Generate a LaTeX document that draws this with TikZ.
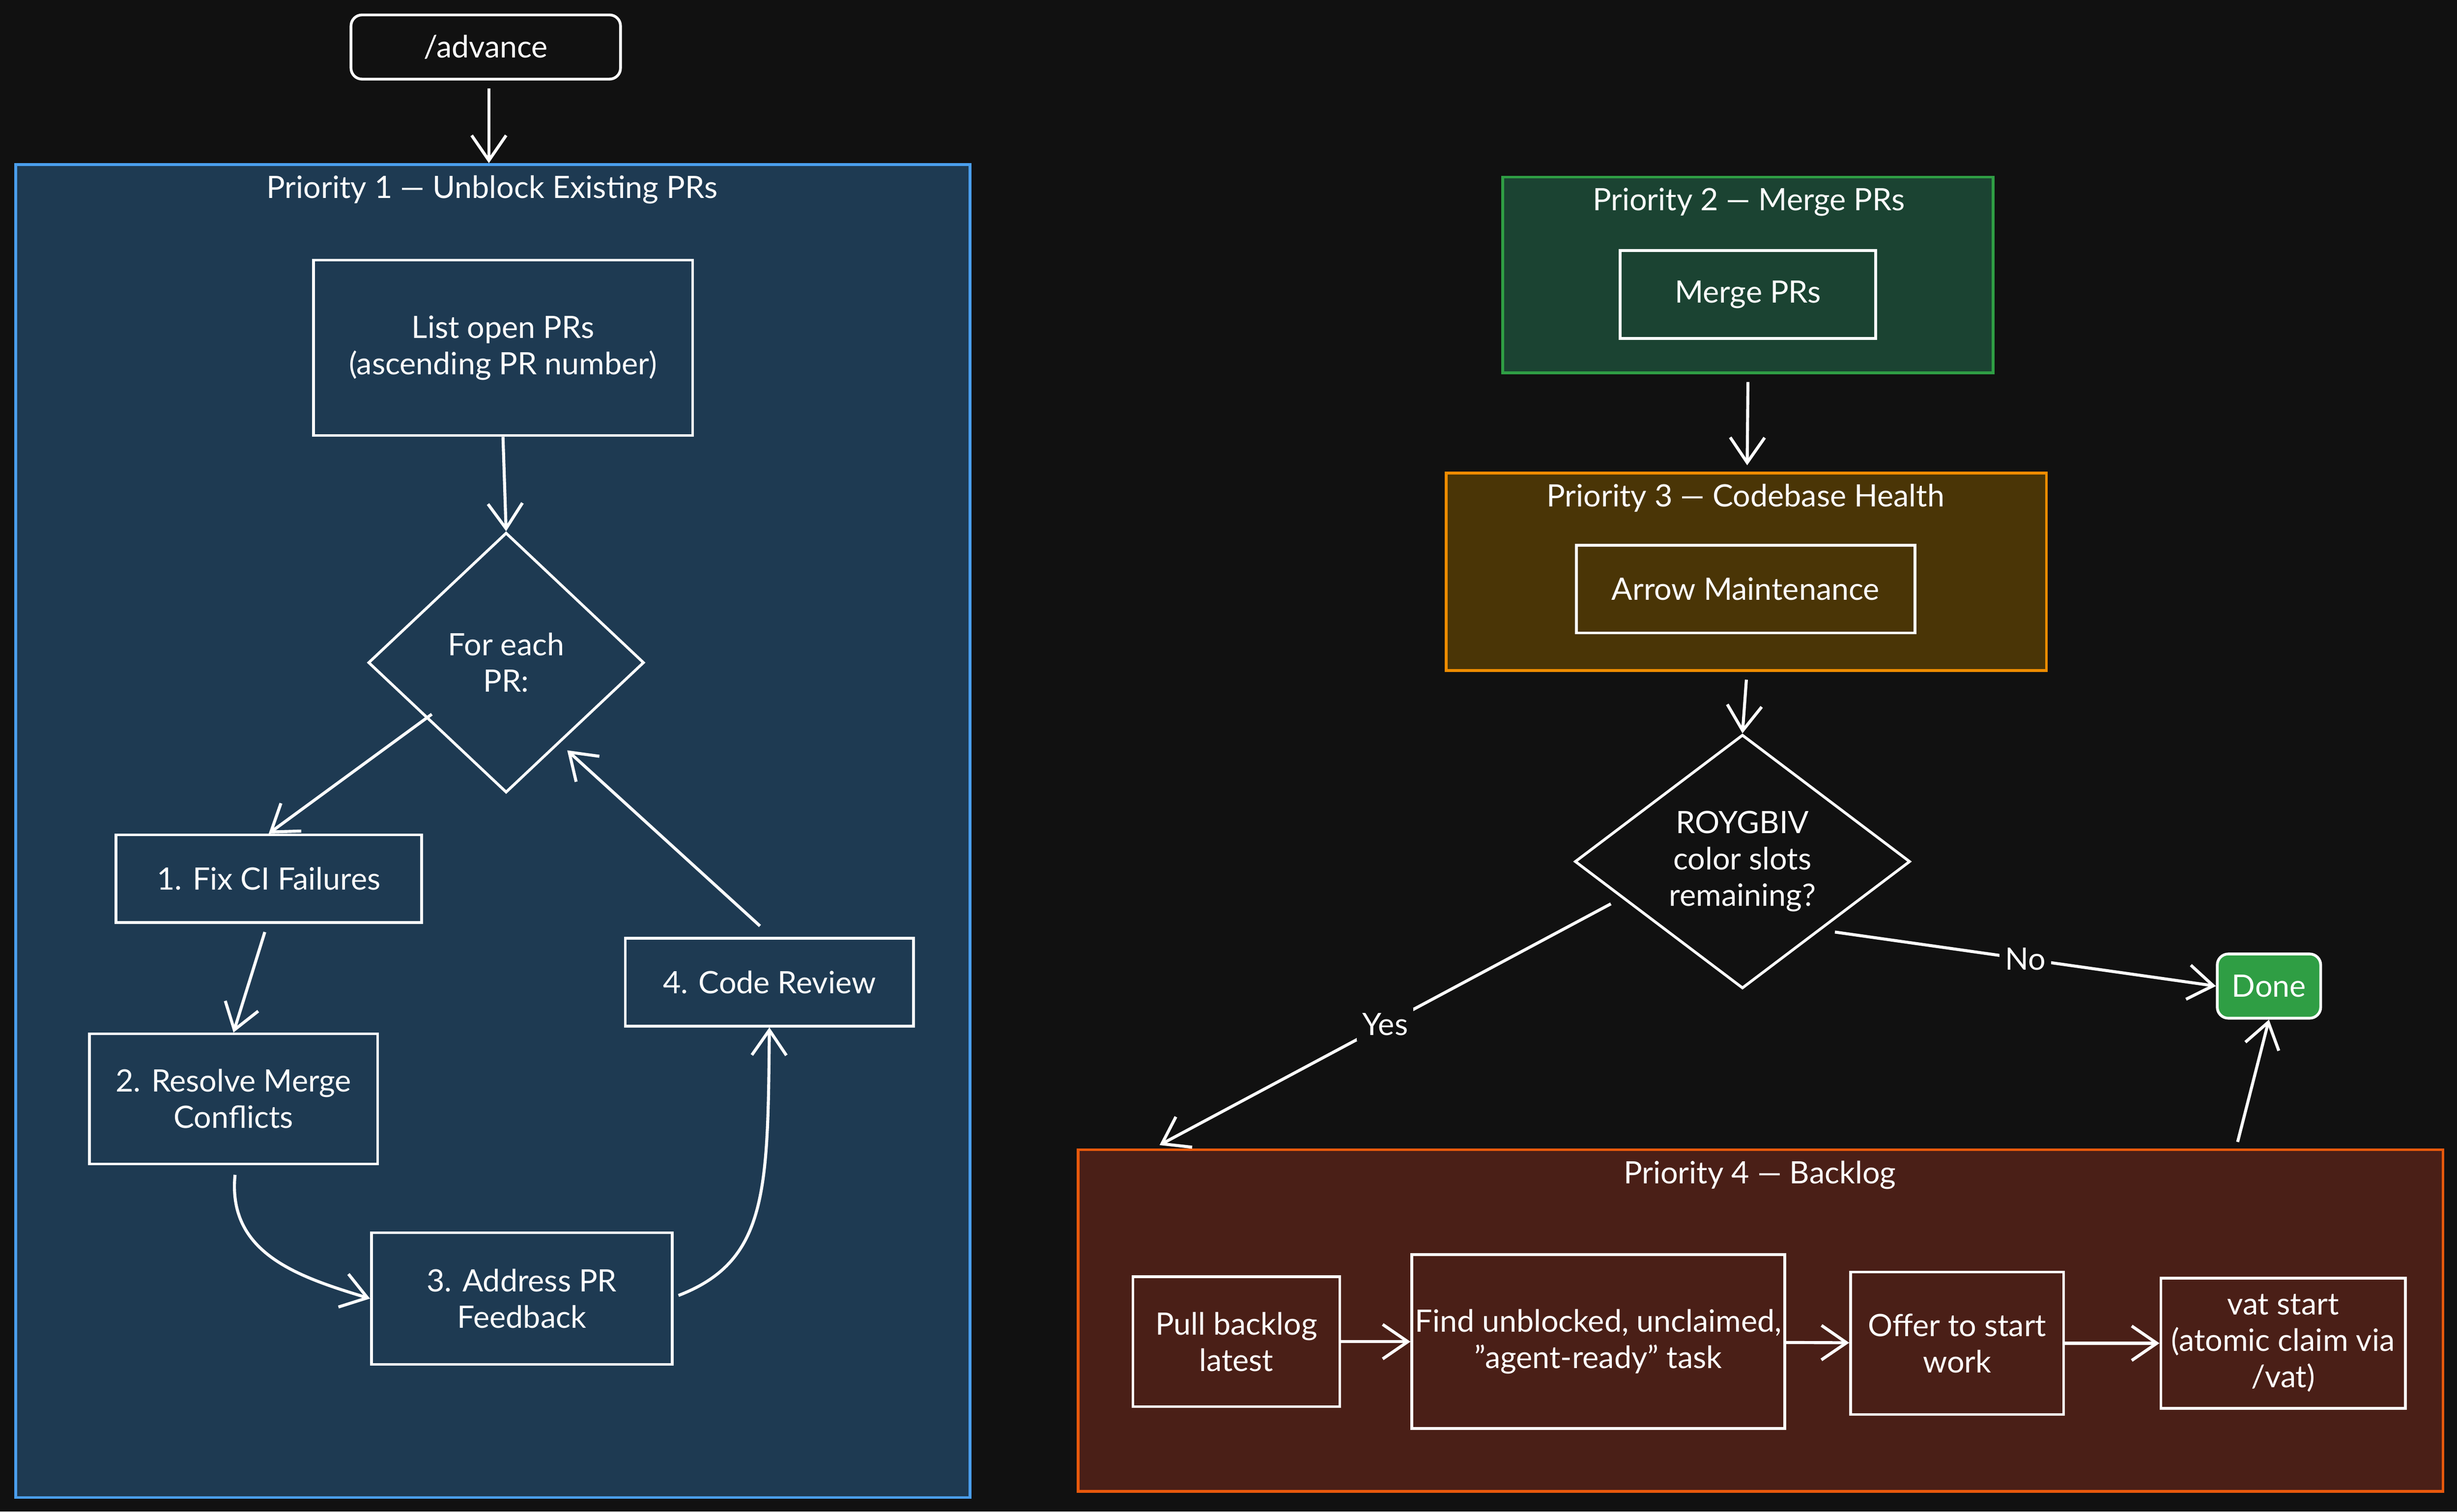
\documentclass[tikz,border=0pt]{standalone}
\usepackage{fontspec}
\setmainfont{Lato}
\usetikzlibrary{arrows.meta,shapes.geometric}
\definecolor{bgc}{HTML}{111111}
\definecolor{pone}{HTML}{1E3A52}\definecolor{poneb}{HTML}{4A9EED}
\definecolor{ptwo}{HTML}{1B4332}\definecolor{ptwob}{HTML}{2F9E44}
\definecolor{pthree}{HTML}{4A3506}\definecolor{pthreeb}{HTML}{F08C00}
\definecolor{pfour}{HTML}{4A1F17}\definecolor{pfourb}{HTML}{E8590C}
\tikzset{
  txt/.style={text=white,font=\fontsize{5.6}{6.6}\selectfont,align=center},
  stepbox/.style={txt,draw=white,line width=0.5pt,inner sep=0pt},
  choice/.style={txt,diamond,draw=white,line width=0.5pt,inner sep=0pt},
  frame/.style={line width=0.5pt,inner sep=0pt},
  flow/.style={draw=white,line width=0.55pt,-{Straight Barb[length=1.6mm,width=2.2mm]}},
}
\begin{document}
\begin{tikzpicture}[x=0.1mm,y=-0.1mm]
\useasboundingbox[fill=bgc] (0,0) rectangle (1568,965);
% frames
\node[frame,draw=poneb,fill=pone,minimum width=60.9mm,minimum height=85.1mm] (p1) at (314.5,530.5) {};
\node[frame,draw=ptwob,fill=ptwo,minimum width=31.3mm,minimum height=12.5mm] (p2) at (1115.5,175.5) {};
\node[frame,draw=pthreeb,fill=pthree,minimum width=38.3mm,minimum height=12.6mm] (p3) at (1114.5,365) {};
\node[frame,draw=pfourb,fill=pfour,minimum width=87.1mm,minimum height=21.8mm] (p4) at (1123.5,843) {};
\node[txt] at (314,121) {Priority 1 — Unblock Existing PRs};
\node[txt] at (1116,129) {Priority 2 — Merge PRs};
\node[txt] at (1114,318) {Priority 3 — Codebase Health};
\node[txt] at (1123,750) {Priority 4 — Backlog};
% priority 1
\node[stepbox,rounded corners=2pt,minimum width=17.2mm,minimum height=4.1mm] (adv) at (310,30) {/advance};
\node[stepbox,minimum width=24.2mm,minimum height=11.2mm] (list) at (321,222) {List open PRs\\(ascending PR number)};
\node[choice,minimum width=17.6mm,minimum height=16.6mm] (each) at (323,423) {For each\\PR:};
\node[stepbox,minimum width=19.5mm,minimum height=5.6mm] (fix) at (171.5,561) {1. Fix CI Failures};
\node[stepbox,minimum width=18.4mm,minimum height=8.3mm] (res) at (149,701.5) {2. Resolve Merge\\Conflicts};
\node[stepbox,minimum width=19.2mm,minimum height=8.4mm] (addr) at (333,829) {3. Address PR\\Feedback};
\node[stepbox,minimum width=18.4mm,minimum height=5.6mm] (rev) at (491,627) {4. Code Review};
\draw[flow] (adv.south) ++(2,5) -- (p1.north -| 312,0);
\draw[flow] (list.south) -- (each.north);
\draw[flow] (each.south west) ++(-3,-9) -- (fix.north);
\draw[flow] (169,595) -- (res.north);
\draw[flow] (150,750) .. controls (145,800) and (190,815) .. (addr.west);
\draw[flow] (433,827) .. controls (490,805) and (490,760) .. (rev.south);
\draw[flow] (rev.north) ++(-6,-7) -- (362,479);
% priority 2, 3
\node[stepbox,minimum width=16.3mm,minimum height=5.6mm] (merge) at (1115.5,188) {Merge PRs};
\node[stepbox,minimum width=21.6mm,minimum height=5.6mm] (arrow) at (1114,376) {Arrow Maintenance};
\node[choice,minimum width=21.4mm,minimum height=16.2mm] (roy) at (1112,550) {ROYGBIV\\color slots\\remaining?};
\node[stepbox,fill=ptwob,rounded corners=2pt,minimum width=6.6mm,minimum height=4.1mm] (done) at (1448,629.5) {Done};
\draw[flow] (p2.south) ++(0,5) -- (1115,297);
\draw[flow] (p3.south) ++(0,5) -- (roy.north);
\draw[flow] (1028,577) -- node[txt,fill=bgc,inner sep=1pt,pos=0.5] {Yes} (740,731);
\draw[flow] (1171,595) -- node[txt,fill=bgc,inner sep=1pt,pos=0.5] {No} (done.west);
\draw[flow] (1428,729) -- (done.south);
% priority 4
\node[stepbox,minimum width=13.2mm,minimum height=8.3mm] (pull) at (789,856.5) {Pull backlog\\latest};
\node[stepbox,minimum width=23.8mm,minimum height=11.1mm] (find) at (1020,856.5) {Find unblocked, unclaimed,\\"agent-ready" task};
\node[stepbox,minimum width=13.6mm,minimum height=9.1mm] (offer) at (1249,857.5) {Offer to start\\work};
\node[stepbox,minimum width=15.6mm,minimum height=8.3mm] (vat) at (1457,857.5) {vat start\\(atomic claim via\\/vat)};
\draw[flow] (pull) -- (find);
\draw[flow] (find) -- (offer);
\draw[flow] (offer) -- (vat);
\end{tikzpicture}
\end{document}
